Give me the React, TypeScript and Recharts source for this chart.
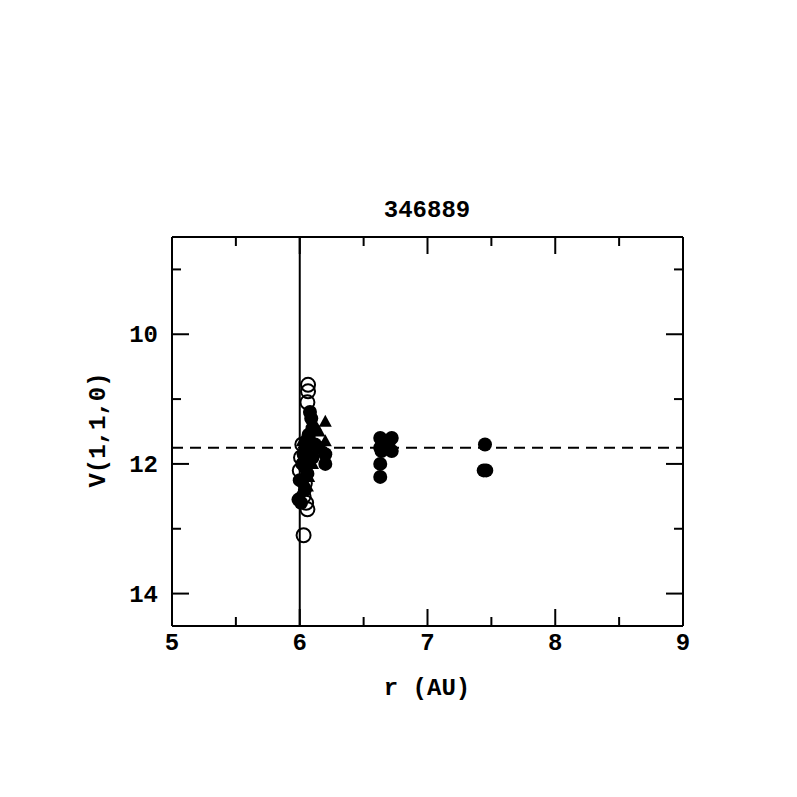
import React from 'react';
import {
  ScatterChart,
  Scatter,
  XAxis,
  YAxis,
  ReferenceLine,
} from 'recharts';

// r (AU) / V(1,1,0) readings
const openR = [6.065, 6.065, 6.06, 6.02, 6.0, 6.04, 6.01, 6.03, 6.05, 6.06, 6.03];
const openV = [10.78, 10.88, 11.05, 11.7, 12.1, 12.3, 11.9, 12.5, 12.6, 12.7, 13.1];

const filledR = [
  6.08, 6.09, 6.1, 6.07, 6.12, 6.05, 6.03, 6.1, 6.2, 6.2, 6.15, 6.02, 6.0, 5.99,
  6.01, 6.04, 6.06, 6.04, 6.07, 6.63, 6.63, 6.64, 6.63, 6.63, 6.72, 6.72, 6.7,
  7.45, 7.44, 7.46,
];
const filledV = [
  11.2, 11.3, 11.45, 11.55, 11.7, 11.75, 11.85, 11.9, 11.85, 12.0, 11.75, 12.0,
  12.25, 12.55, 12.6, 12.4, 12.15, 12.05, 11.6, 11.6, 11.75, 11.8, 12.0, 12.2,
  11.6, 11.8, 11.65, 11.7, 12.1, 12.1,
];

const triR = [6.2, 6.2, 6.15, 6.12, 6.02, 6.03, 6.05, 6.07, 6.1, 6.04, 6.06];
const triV = [11.35, 11.65, 11.5, 11.4, 11.65, 11.8, 12.05, 12.2, 12.0, 11.95, 12.35];

const xTicks = [5, 5.5, 6, 6.5, 7, 7.5, 8, 8.5, 9];
const yTicks = [9, 10, 11, 12, 13, 14];
const meanV = 11.75;
const perihelion = 6;

const toPoints = (rs: number[], vs: number[]) => rs.map((r, i) => ({ r, v: vs[i] }));

const FONT = '"Liberation Mono", "DejaVu Sans Mono", monospace';
const FS = 24;
const PLOT_TOP = 237;
const PLOT_BOTTOM = 626;
const PLOT_LEFT = 172;
const PLOT_RIGHT = 683;

const XTickBottom = (props: any) => {
  const { x, payload } = props;
  const v = payload.value;
  const major = Number.isInteger(v);
  return (
    <g>
      <line x1={x} x2={x} y1={PLOT_BOTTOM} y2={PLOT_BOTTOM - (major ? 17 : 9)} stroke="#000" strokeWidth={2} />
      {major && (
        <text x={x} y={PLOT_BOTTOM + 24} textAnchor="middle" fontFamily={FONT} fontWeight="bold" fontSize={FS} fill="#000">
          {v}
        </text>
      )}
    </g>
  );
};

const XTickTop = (props: any) => {
  const { x, payload } = props;
  const major = Number.isInteger(payload.value);
  return <line x1={x} x2={x} y1={PLOT_TOP} y2={PLOT_TOP + (major ? 17 : 9)} stroke="#000" strokeWidth={2} />;
};

const YTickLeft = (props: any) => {
  const { y, payload } = props;
  const v = payload.value;
  const major = v % 2 === 0;
  return (
    <g>
      <line x1={PLOT_LEFT} x2={PLOT_LEFT + (major ? 17 : 9)} y1={y} y2={y} stroke="#000" strokeWidth={2} />
      {major && (
        <text x={PLOT_LEFT - 14} y={y + 8} textAnchor="end" fontFamily={FONT} fontWeight="bold" fontSize={FS} fill="#000">
          {v}
        </text>
      )}
    </g>
  );
};

const YTickRight = (props: any) => {
  const { y, payload } = props;
  const major = payload.value % 2 === 0;
  return <line x1={PLOT_RIGHT} x2={PLOT_RIGHT - (major ? 17 : 9)} y1={y} y2={y} stroke="#000" strokeWidth={2} />;
};

const OpenCircle = (props: any) => (
  <circle cx={props.cx} cy={props.cy} r={7} fill="none" stroke="#000" strokeWidth={2} />
);
const FilledCircle = (props: any) => <circle cx={props.cx} cy={props.cy} r={7} fill="#000" />;
const Triangle = (props: any) => {
  const { cx, cy } = props;
  return <polygon points={`${cx},${cy - 7} ${cx - 6.5},${cy + 5} ${cx + 6.5},${cy + 5}`} fill="#000" />;
};

export default function App() {
  return (
    <div style={{ position: 'absolute', left: 0, top: 0, width: 797, height: 797, background: '#fff' }}>
      <ScatterChart
        width={797}
        height={797}
        margin={{ top: PLOT_TOP - 20, right: 797 - PLOT_RIGHT - 20, bottom: 797 - PLOT_BOTTOM - 30, left: PLOT_LEFT - 60 }}
      >
        <XAxis
          xAxisId="b"
          type="number"
          dataKey="r"
          domain={[5, 9]}
          ticks={xTicks}
          interval={0}
          height={30}
          tickSize={0}
          tickMargin={0}
          tickLine={false}
          tick={<XTickBottom />}
          axisLine={{ stroke: '#000', strokeWidth: 2 }}
          allowDataOverflow
        />
        <XAxis
          xAxisId="t"
          orientation="top"
          type="number"
          dataKey="r"
          domain={[5, 9]}
          ticks={xTicks}
          interval={0}
          height={20}
          tickSize={0}
          tickMargin={0}
          tickLine={false}
          tick={<XTickTop />}
          axisLine={{ stroke: '#000', strokeWidth: 2 }}
          allowDataOverflow
        />
        <YAxis
          yAxisId="l"
          type="number"
          dataKey="v"
          domain={[8.5, 14.5]}
          reversed
          ticks={yTicks}
          interval={0}
          width={60}
          tickSize={0}
          tickMargin={0}
          tickLine={false}
          tick={<YTickLeft />}
          axisLine={{ stroke: '#000', strokeWidth: 2 }}
          allowDataOverflow
        />
        <YAxis
          yAxisId="r"
          orientation="right"
          type="number"
          dataKey="v"
          domain={[8.5, 14.5]}
          reversed
          ticks={yTicks}
          interval={0}
          width={20}
          tickSize={0}
          tickMargin={0}
          tickLine={false}
          tick={<YTickRight />}
          axisLine={{ stroke: '#000', strokeWidth: 2 }}
          allowDataOverflow
        />
        <ReferenceLine xAxisId="b" yAxisId="l" x={perihelion} stroke="#000" strokeWidth={2} />
        <ReferenceLine xAxisId="b" yAxisId="l" y={meanV} stroke="#000" strokeWidth={2} strokeDasharray="11 7" />
        <Scatter xAxisId="b" yAxisId="l" data={toPoints(openR, openV)} shape={<OpenCircle />} isAnimationActive={false} />
        <Scatter xAxisId="b" yAxisId="l" data={toPoints(filledR, filledV)} shape={<FilledCircle />} isAnimationActive={false} />
        <Scatter xAxisId="b" yAxisId="l" data={toPoints(triR, triV)} shape={<Triangle />} isAnimationActive={false} />
        <text x={427} y={217} textAnchor="middle" fontFamily={FONT} fontWeight="bold" fontSize={FS} fill="#000">
          346889
        </text>
        <text x={427} y={695} textAnchor="middle" fontFamily={FONT} fontWeight="bold" fontSize={FS} fill="#000">
          r (AU)
        </text>
        <text
          x={105}
          y={430}
          textAnchor="middle"
          fontFamily={FONT}
          fontWeight="bold"
          fontSize={FS}
          fill="#000"
          transform="rotate(-90 105 430)"
        >
          V(1,1,0)
        </text>
      </ScatterChart>
    </div>
  );
}
